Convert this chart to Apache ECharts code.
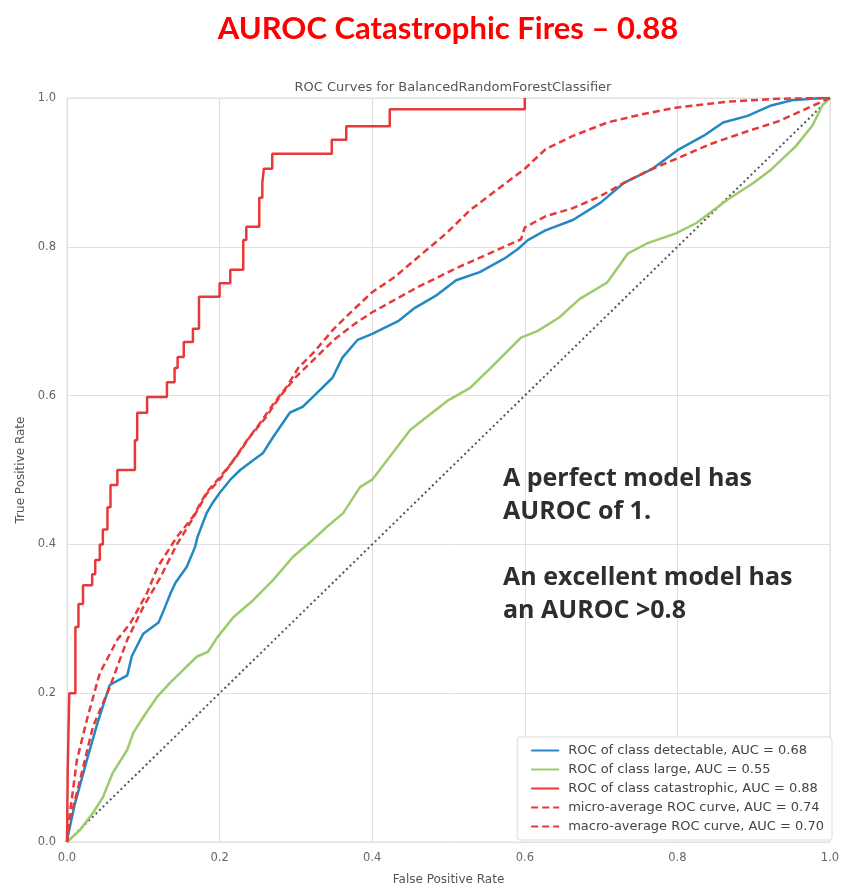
<!DOCTYPE html>
<html>
<head>
<meta charset="utf-8">
<title>AUROC Catastrophic Fires</title>
<script src="https://cdn.jsdelivr.net/npm/echarts@6/dist/echarts.min.js"></script>
<style>
  html, body { margin: 0; padding: 0; background: #fff; }
  #chart { width: 842px; height: 883px; }
</style>
</head>
<body>
<div id="chart"></div>
<script>
// values (FPR / TPR pairs per curve)
var detectableFpr = [0, 0.001, 0.01, 0.026, 0.04, 0.056, 0.079, 0.085, 0.1, 0.12, 0.127, 0.136, 0.142, 0.157, 0.168, 0.171, 0.183, 0.191, 0.2, 0.214, 0.227, 0.244, 0.257, 0.27, 0.292, 0.309, 0.322, 0.348, 0.361, 0.381, 0.4, 0.434, 0.456, 0.483, 0.51, 0.541, 0.573, 0.591, 0.604, 0.627, 0.663, 0.699, 0.73, 0.766, 0.802, 0.834, 0.86, 0.892, 0.923, 0.95, 0.99, 1];
var detectableTpr = [0, 0.007, 0.05, 0.11, 0.16, 0.211, 0.224, 0.25, 0.28, 0.295, 0.312, 0.335, 0.348, 0.37, 0.397, 0.41, 0.442, 0.456, 0.469, 0.487, 0.5, 0.513, 0.523, 0.544, 0.577, 0.585, 0.598, 0.624, 0.651, 0.675, 0.683, 0.7, 0.718, 0.734, 0.755, 0.766, 0.784, 0.797, 0.809, 0.822, 0.836, 0.859, 0.886, 0.904, 0.931, 0.949, 0.967, 0.976, 0.99, 0.997, 1.0, 1];

var largeFpr = [0, 0.017, 0.034, 0.047, 0.06, 0.079, 0.087, 0.1, 0.118, 0.135, 0.152, 0.17, 0.185, 0.197, 0.218, 0.244, 0.27, 0.296, 0.322, 0.34, 0.362, 0.384, 0.4, 0.45, 0.5, 0.528, 0.555, 0.595, 0.617, 0.645, 0.672, 0.708, 0.735, 0.761, 0.798, 0.825, 0.865, 0.9, 0.923, 0.955, 0.977, 0.99, 1];
var largeTpr = [0, 0.016, 0.039, 0.06, 0.093, 0.124, 0.147, 0.168, 0.195, 0.214, 0.231, 0.249, 0.256, 0.275, 0.302, 0.325, 0.352, 0.383, 0.406, 0.423, 0.442, 0.477, 0.487, 0.554, 0.594, 0.61, 0.637, 0.678, 0.687, 0.705, 0.73, 0.752, 0.791, 0.805, 0.818, 0.832, 0.863, 0.886, 0.904, 0.935, 0.963, 0.99, 1];

// step curve: each point is where the TPR jumps to the new value
var catFpr = [0, 0.001, 0.003, 0.011, 0.015, 0.021, 0.033, 0.037, 0.043, 0.047, 0.053, 0.057, 0.066, 0.089, 0.092, 0.105, 0.131, 0.141, 0.145, 0.153, 0.165, 0.173, 0.2, 0.214, 0.231, 0.235, 0.252, 0.256, 0.258, 0.269, 0.347, 0.366, 0.423, 0.6];
var catTpr = [0, 0.10, 0.20, 0.289, 0.32, 0.345, 0.36, 0.379, 0.40, 0.42, 0.45, 0.48, 0.50, 0.54, 0.577, 0.598, 0.618, 0.637, 0.652, 0.672, 0.69, 0.733, 0.751, 0.769, 0.809, 0.827, 0.866, 0.886, 0.905, 0.925, 0.944, 0.962, 0.985, 1.0];

var microFpr = [0, 0.004, 0.017, 0.034, 0.056, 0.079, 0.1, 0.122, 0.144, 0.165, 0.183, 0.2, 0.218, 0.236, 0.253, 0.27, 0.288, 0.303, 0.325, 0.35, 0.375, 0.4, 0.429, 0.46, 0.497, 0.528, 0.564, 0.599, 0.627, 0.663, 0.708, 0.753, 0.798, 0.865, 0.932, 1];
var microTpr = [0, 0.03, 0.083, 0.155, 0.208, 0.272, 0.316, 0.355, 0.40, 0.435, 0.468, 0.487, 0.513, 0.54, 0.563, 0.588, 0.612, 0.637, 0.66, 0.69, 0.715, 0.739, 0.759, 0.786, 0.818, 0.849, 0.877, 0.904, 0.931, 0.949, 0.967, 0.978, 0.987, 0.995, 0.999, 1];

var macroFpr = [0, 0.004, 0.013, 0.026, 0.043, 0.066, 0.083, 0.105, 0.119, 0.144, 0.165, 0.183, 0.2, 0.22, 0.24, 0.26, 0.28, 0.3, 0.325, 0.35, 0.375, 0.4, 0.46, 0.514, 0.573, 0.595, 0.6, 0.627, 0.663, 0.699, 0.73, 0.761, 0.798, 0.843, 0.888, 0.933, 1];
var macroTpr = [0, 0.04, 0.11, 0.164, 0.227, 0.272, 0.294, 0.335, 0.37, 0.41, 0.437, 0.47, 0.49, 0.515, 0.545, 0.57, 0.6, 0.625, 0.65, 0.675, 0.695, 0.712, 0.746, 0.773, 0.80, 0.81, 0.826, 0.841, 0.852, 0.868, 0.886, 0.902, 0.918, 0.938, 0.954, 0.969, 1];

var diagFpr = [0, 1];
var diagTpr = [0, 1];

var names = [
  'ROC of class detectable, AUC = 0.68',
  'ROC of class large, AUC = 0.55',
  'ROC of class catastrophic, AUC = 0.88',
  'micro-average ROC curve, AUC = 0.74',
  'macro-average ROC curve, AUC = 0.70'
];

function zip(xs, ys) {
  var out = [];
  for (var i = 0; i < xs.length; i++) out.push([xs[i], ys[i]]);
  return out;
}

var BLUE = '#2389c3';
var GREEN = '#9dcb6c';
var RED = '#e8393a';

var chart = echarts.init(document.getElementById('chart'));

var option = {
  backgroundColor: '#fff',
  animation: false,
  title: [
    {
      text: 'AUROC Catastrophic Fires \u2013 0.88',
      left: 443,
      textAlign: 'center',
      top: 8,
      textStyle: { color: '#ff0000', fontSize: 31, fontWeight: 'bold', fontFamily: 'Lato' }
    },
    {
      text: 'ROC Curves for BalancedRandomForestClassifier',
      left: 448,
      textAlign: 'center',
      top: 76,
      textStyle: { color: '#555', fontSize: 13, fontWeight: 'normal', fontFamily: 'DejaVu Sans' }
    }
  ],
  grid: {
    left: 67, right: 12, top: 98, bottom: 41,
    outerBoundsMode: 'none',
    show: true, borderColor: '#e0e0e0', borderWidth: 1
  },
  xAxis: {
    type: 'value', min: 0, max: 1, interval: 0.2,
    name: 'False Positive Rate', nameLocation: 'middle', nameGap: 32,
    nameTextStyle: { color: '#555', fontSize: 12, fontFamily: 'DejaVu Sans' },
    axisLine: { show: false },
    axisTick: { show: false },
    axisLabel: { color: '#666', fontSize: 11.5, fontFamily: 'DejaVu Sans', margin: 10,
      formatter: function (v) { return v.toFixed(1); } },
    splitLine: { lineStyle: { color: '#e0e0e0', width: 1 } }
  },
  yAxis: {
    type: 'value', min: 0, max: 1, interval: 0.2,
    name: 'True Positive Rate', nameLocation: 'middle', nameGap: 40, nameRotate: 90,
    nameTextStyle: { color: '#555', fontSize: 12, fontFamily: 'DejaVu Sans' },
    axisLine: { show: false },
    axisTick: { show: false },
    axisLabel: { color: '#666', fontSize: 11.5, fontFamily: 'DejaVu Sans', margin: 11,
      formatter: function (v) { return v.toFixed(1); } },
    splitLine: { lineStyle: { color: '#e0e0e0', width: 1 } }
  },
  legend: {
    data: names,
    orient: 'vertical',
    right: 10,
    bottom: 43,
    itemWidth: 28,
    itemHeight: 11,
    itemGap: 6,
    padding: [7, 8, 7, 13],
    backgroundColor: '#fff',
    borderColor: '#dcdcdc',
    borderWidth: 1,
    borderRadius: 3,
    itemStyle: { opacity: 0 },
    textStyle: { color: '#444', fontSize: 13, fontFamily: 'DejaVu Sans', padding: [0, 0, 0, 4] }
  },
  graphic: [
    {
      type: 'text',
      left: 503,
      top: 462,
      z: 100,
      style: {
        text: 'A perfect model has\nAUROC of 1.\n\nAn excellent model has\nan AUROC >0.8',
        fill: '#2e2e2e',
        font: 'bold 25px "Open Sans"',
        lineHeight: 33
      }
    }
  ],
  series: [
    {
      name: 'diag', type: 'line', symbol: 'none', silent: true,
      data: zip(diagFpr, diagTpr),
      lineStyle: { color: '#555', width: 2, type: [2, 3] }, z: 1
    },
    {
      name: names[0], type: 'line', symbol: 'none',
      data: zip(detectableFpr, detectableTpr),
      itemStyle: { color: BLUE },
      lineStyle: { color: BLUE, width: 2.5 }
    },
    {
      name: names[1], type: 'line', symbol: 'none',
      data: zip(largeFpr, largeTpr),
      itemStyle: { color: GREEN },
      lineStyle: { color: GREEN, width: 2.5 }
    },
    {
      name: names[2], type: 'line', symbol: 'none', step: 'end',
      data: zip(catFpr, catTpr),
      itemStyle: { color: RED },
      lineStyle: { color: RED, width: 2.5 }
    },
    {
      name: names[3], type: 'line', symbol: 'none',
      data: zip(microFpr, microTpr),
      itemStyle: { color: RED },
      lineStyle: { color: RED, width: 2.5, type: [7, 4] }
    },
    {
      name: names[4], type: 'line', symbol: 'none',
      data: zip(macroFpr, macroTpr),
      itemStyle: { color: RED },
      lineStyle: { color: RED, width: 2.5, type: [7, 4] }
    }
  ]
};

chart.setOption(option);
</script>
</body>
</html>
